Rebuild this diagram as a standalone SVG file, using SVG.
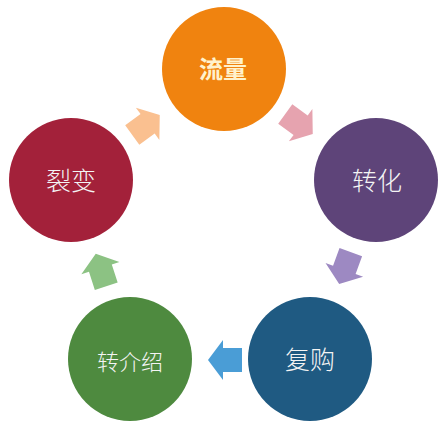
<svg xmlns="http://www.w3.org/2000/svg" width="445" height="429" viewBox="0 0 445 429">
<defs>
<style>
.lbl{font-family:"Noto Sans CJK SC","Noto Sans",sans-serif;fill:#F4F4F4;text-anchor:middle;dominant-baseline:central;font-size:25px;font-weight:300;}
.bold{font-weight:bold;fill:#FFF2CC;font-size:24px;}
</style>
<polygon id="arr" points="-17,-12 2,-12 2,-20 17,0 2,20 2,12 -17,12"/>
</defs>
<rect width="445" height="429" fill="#FFFFFF"/>
<g id="connectors">
<use href="#arr" fill="#FAC090" transform="translate(146,125) rotate(-36)"/>
<use href="#arr" fill="#E6A3AF" transform="translate(299,124) rotate(36)"/>
<use href="#arr" fill="#9D89C2" transform="translate(345,268) rotate(110)"/>
<use href="#arr" fill="#4A9DD6" transform="translate(225,360) rotate(180)"/>
<use href="#arr" fill="#8CC283" transform="translate(101,270) rotate(-108)"/>
</g>
<g id="n-liuliang">
<circle cx="224" cy="69" r="62" fill="#F0830F"/>
<text class="lbl bold" x="223" y="67">流量</text>
</g>
<g id="n-zhuanhua">
<circle cx="376" cy="180" r="62" fill="#5E4479"/>
<text class="lbl" x="377" y="179">转化</text>
</g>
<g id="n-fugou">
<circle cx="310" cy="359" r="62" fill="#1F5A82"/>
<text class="lbl" x="310" y="358">复购</text>
</g>
<g id="n-zhuanjieshao">
<circle cx="130" cy="359" r="62" fill="#4E8A3F"/>
<text class="lbl" x="130" y="360" style="font-size:22px">转介绍</text>
</g>
<g id="n-liebian">
<circle cx="71" cy="180" r="62" fill="#A3213A"/>
<text class="lbl" x="71" y="179">裂变</text>
</g>
</svg>
